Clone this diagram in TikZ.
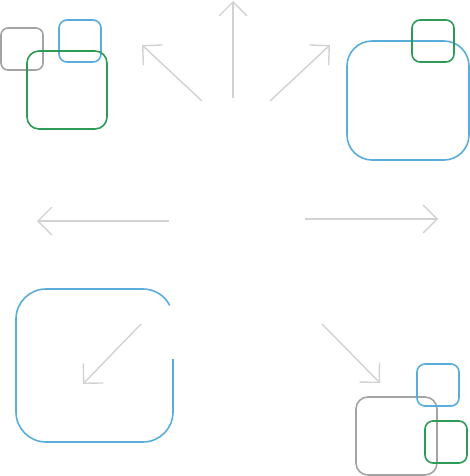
\documentclass[tikz,border=0pt]{standalone}
\usetikzlibrary{arrows.meta}
\definecolor{boxgray}{HTML}{A3A3A3}
\definecolor{boxblue}{HTML}{5AADDA}
\definecolor{boxgreen}{HTML}{2E9A58}
\definecolor{arrgray}{HTML}{D2D2D2}
\tikzset{
  box/.style={draw, line width=1.6pt},
  arr/.style={draw=arrgray, line width=1.4pt, -{Straight Barb[length=14pt,width=28pt,line width=1.4pt]}},
}
\begin{document}
\begin{tikzpicture}[x=1pt,y=-1pt]
\useasboundingbox (0,0) rectangle (470,476);
% top-left group
\draw[box, boxgray, rounded corners=7] (1,28) rectangle (43,70);
\draw[box, boxblue, rounded corners=8] (59,20) rectangle (101,62);
\draw[box, boxgreen, rounded corners=12] (27,51) rectangle (107,129);
% top-right group
\draw[box, boxblue, rounded corners=25] (347,41) rectangle (469,160);
\draw[box, boxgreen, rounded corners=8] (412,20) rectangle (454,62);
% bottom-left open box
\draw[box, boxblue] (173,359) -- (173,412) arc(0:90:30) -- (46,442) arc(90:180:30)
  -- (16,319) arc(180:270:30) -- (143,289) arc(270:333:30);
% bottom-right group
\draw[box, boxgray, rounded corners=12] (356,397) rectangle (437,475);
\draw[box, boxblue, rounded corners=8] (417,364) rectangle (459,406);
\draw[box, boxgreen, rounded corners=8] (425,421) rectangle (467,463);
% arrows
\coordinate (nwS) at (202,101); \coordinate (nwE) at (142,45);
\coordinate (nS) at (233,98);   \coordinate (nE) at (233,1);
\coordinate (neS) at (270,101); \coordinate (neE) at (330,45);
\coordinate (wS) at (169,221);  \coordinate (wE) at (37,221);
\coordinate (eS) at (305,219);  \coordinate (eE) at (438,219);
\coordinate (swS) at (141,324); \coordinate (swE) at (83,384);
\coordinate (seS) at (322,324); \coordinate (seE) at (380,383);
\draw[arr] (nwS) -- (nwE);
\draw[arr] (nS) -- (nE);
\draw[arr] (neS) -- (neE);
\draw[arr] (wS) -- (wE);
\draw[arr] (eS) -- (eE);
\draw[arr] (swS) -- (swE);
\draw[arr] (seS) -- (seE);
\end{tikzpicture}
\end{document}
